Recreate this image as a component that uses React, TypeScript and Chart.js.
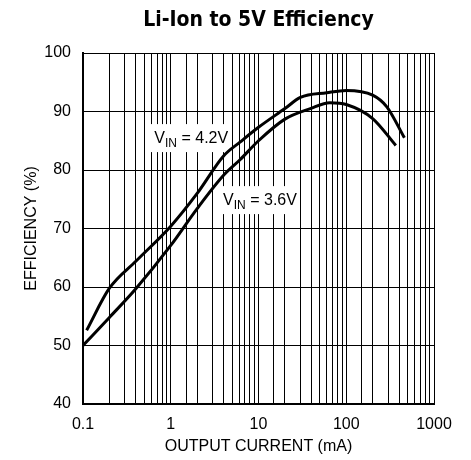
import React, { useEffect, useRef } from "react";
import { Chart, registerables } from "chart.js";

Chart.register(...registerables);

const TITLE = "Li-Ion to 5V Efficiency";
const X_TITLE = "OUTPUT CURRENT (mA)";
const Y_TITLE = "EFFICIENCY (%)";

// V_IN = 4.2V curve
const current42 = [0.11, 0.2, 0.4, 1, 2, 4, 6.2, 10, 20, 30, 60, 100, 200, 290, 460];
const eff42 = [52.6, 59.8, 64.4, 70.4, 76.0, 82.4, 84.8, 87.3, 90.5, 92.4, 93.2, 93.6, 92.8, 90.8, 85.5];

// V_IN = 3.6V curve
const current36 = [0.1, 0.2, 0.4, 1, 2, 4, 6.2, 10, 20, 39, 65, 100, 200, 367];
const eff36 = [50.0, 54.8, 59.7, 67.1, 73.4, 79.1, 81.8, 85.0, 88.7, 90.5, 91.5, 91.2, 88.8, 84.2];

// label anchors (data coordinates, left/baseline)
const labels = [
  { main: "V", sub: "IN", rest: " = 4.2V", x: 0.65, y: 84.6 },
  { main: "V", sub: "IN", rest: " = 3.6V", x: 3.95, y: 74.0 },
];

const FONT = "'Liberation Sans', Arial, sans-serif";
const TITLE_FONT = "'DejaVu Sans Condensed', 'Liberation Sans', sans-serif";

const labelPlugin = {
  id: "vinLabels",
  beforeDatasetsDraw(chart: any) {
    const ctx = chart.ctx;
    const xs = chart.scales.x;
    const ys = chart.scales.y;
    ctx.save();
    labels.forEach((l) => {
      const px = xs.getPixelForValue(l.x);
      const py = ys.getPixelForValue(l.y);
      ctx.font = `16px ${FONT}`;
      const w1 = ctx.measureText(l.main).width;
      const w3 = ctx.measureText(l.rest).width;
      ctx.font = `12px ${FONT}`;
      const w2 = ctx.measureText(l.sub).width;
      const total = w1 + w2 + w3;
      ctx.fillStyle = "#fff";
      ctx.fillRect(px - 5, py - 19, total + 8, 28);
      ctx.fillStyle = "#000";
      ctx.textBaseline = "alphabetic";
      ctx.textAlign = "left";
      ctx.font = `16px ${FONT}`;
      ctx.fillText(l.main, px, py);
      ctx.font = `12px ${FONT}`;
      ctx.fillText(l.sub, px + w1, py + 4);
      ctx.font = `16px ${FONT}`;
      ctx.fillText(l.rest, px + w1 + w2, py);
    });
    ctx.restore();
  },
};

export default function App() {
  const ref = useRef<HTMLCanvasElement | null>(null);
  useEffect(() => {
    if (!ref.current) return;
    const isMajor = (v: number) => {
      const l = Math.log10(v);
      return Math.abs(l - Math.round(l)) < 1e-6;
    };
    const chart = new Chart(ref.current, {
      type: "line",
      data: {
        datasets: [
          {
            label: "VIN = 4.2V",
            data: current42.map((x, i) => ({ x, y: eff42[i] })),
            borderColor: "#000",
            borderWidth: 3,
            pointRadius: 0,
            cubicInterpolationMode: "monotone",
            fill: false,
          },
          {
            label: "VIN = 3.6V",
            data: current36.map((x, i) => ({ x, y: eff36[i] })),
            borderColor: "#000",
            borderWidth: 3,
            pointRadius: 0,
            cubicInterpolationMode: "monotone",
            fill: false,
          },
        ],
      },
      plugins: [labelPlugin],
      options: {
        animation: false,
        responsive: false,
        maintainAspectRatio: false,
        layout: { padding: { left: 0, right: 29, top: 0, bottom: 0 } },
        plugins: {
          legend: { display: false },
          tooltip: { enabled: false },
          title: {
            display: true,
            text: TITLE,
            color: "#000",
            fullSize: false,
            font: { family: TITLE_FONT, size: 21, weight: "bold", lineHeight: 1 },
            padding: { top: 2, bottom: 22 },
          },
        },
        scales: {
          x: {
            type: "logarithmic",
            min: 0.1,
            max: 1000,
            grid: { color: "#000", lineWidth: 1, drawTicks: false },
            border: { color: "#000", width: 2 },
            ticks: {
              autoSkip: false,
              maxRotation: 0,
              color: "#000",
              padding: 11,
              font: { family: FONT, size: 16 },
              callback: (v: any) => {
                const n = Number(v);
                if (!isMajor(n)) return "";
                return n < 1 ? "0.1" : String(Math.round(n));
              },
            },
            title: {
              display: true,
              text: X_TITLE,
              color: "#000",
              font: { family: FONT, size: 16 },
              padding: { top: 0, bottom: 4 },
            },
            afterFit: (s: any) => {
              s.height = 56;
            },
          },
          y: {
            min: 40,
            max: 100,
            grid: { color: "#000", lineWidth: 1, drawTicks: false },
            border: { color: "#000", width: 2 },
            ticks: {
              stepSize: 10,
              color: "#000",
              padding: 12,
              font: { family: FONT, size: 16 },
            },
            title: {
              display: true,
              text: Y_TITLE,
              color: "#000",
              font: { family: FONT, size: 16 },
              padding: { top: 14, bottom: 0 },
            },
            afterFit: (s: any) => {
              s.width = 75;
            },
          },
        },
      },
    } as any);
    return () => chart.destroy();
  }, []);
  return (
    <div style={{ width: 455, height: 452 }}>
      <canvas ref={ref} width={455} height={452} style={{ display: "block", width: 455, height: 452 }} />
    </div>
  );
}
